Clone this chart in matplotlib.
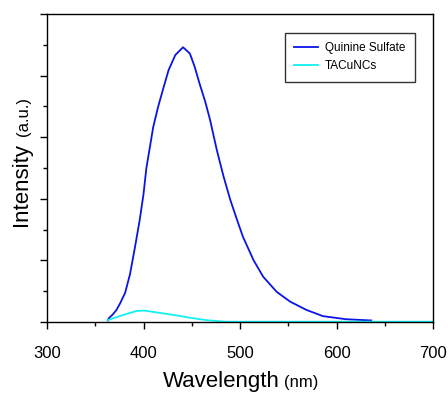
# Fluorescence emission spectra: quinine sulfate reference vs TACuNCs

import matplotlib.pyplot as plt
from matplotlib.ticker import MultipleLocator

plt.rcParams["font.family"] = ["Liberation Sans", "DejaVu Sans"]

# wavelength (nm) and intensity (a.u., normalised to axis top)
qs_wl = [363, 364, 368, 372, 376, 381, 386, 391, 396, 400, 403, 407, 410, 415,
         420, 426, 433, 441, 448, 453, 458, 464, 469, 476, 483, 490, 497, 503,
         514, 524, 538, 552, 569, 586, 610, 636]
qs_int = [0.005, 0.012, 0.024, 0.039, 0.062, 0.095, 0.155, 0.24, 0.33, 0.415,
          0.5, 0.575, 0.632, 0.697, 0.753, 0.818, 0.867, 0.892, 0.872, 0.829,
          0.775, 0.715, 0.656, 0.558, 0.472, 0.396, 0.331, 0.277, 0.201, 0.147,
          0.098, 0.066, 0.039, 0.019, 0.009, 0.005]

cu_wl = [363, 379, 393, 401, 414, 431, 448, 465, 486, 550, 620, 700]
cu_int = [0.006, 0.023, 0.036, 0.037, 0.031, 0.023, 0.014, 0.006, 0.001, 0.001,
          0.001, 0.001]

W, H = 448, 394
fig = plt.figure(figsize=(W / 100, H / 100), dpi=100)
ax = fig.add_axes([47 / W, 1 - 322 / H, 386 / W, 308 / H])

ax.plot(qs_wl, qs_int, color="#0a14e6", lw=1.3, label="Quinine Sulfate")
ax.plot(cu_wl, cu_int, color="#14f0f0", lw=1.3, label="TACuNCs")

ax.set_xlim(300, 700)
ax.set_ylim(0, 1)
ax.xaxis.set_major_locator(MultipleLocator(100))
ax.xaxis.set_minor_locator(MultipleLocator(50))
ax.yaxis.set_major_locator(MultipleLocator(0.2))
ax.yaxis.set_minor_locator(MultipleLocator(0.1))
ax.tick_params(which="major", direction="out", length=5, width=1, labelsize=12,
               pad=12)
ax.tick_params(which="minor", direction="out", length=3, width=1)
ax.tick_params(axis="y", labelleft=False)
for s in ax.spines.values():
    s.set_linewidth(1)

# axis titles with smaller unit text
fig.text(280 / W, 1 - 387 / H, "Wavelength", fontsize=16, ha="right",
         va="baseline")
fig.text(284 / W, 1 - 387 / H, "(nm)", fontsize=12, ha="left", va="baseline")
fig.text(21 / W, 1 - 184 / H, "Intensity", fontsize=16, rotation=90,
         ha="center", va="center")
fig.text(23 / W, 1 - 117 / H, "(a.u.)", fontsize=12, rotation=90,
         ha="center", va="center")

leg = ax.legend(loc="upper right", bbox_to_anchor=(415 / W, 1 - 33 / H),
                bbox_transform=fig.transFigure, borderaxespad=0, fontsize=8.5,
                frameon=True, fancybox=False, edgecolor="black",
                handlelength=2.0, handletextpad=0.6, borderpad=0.8,
                labelspacing=0.5)
leg.get_frame().set_linewidth(1)

fig.savefig("out.png", dpi=100)
